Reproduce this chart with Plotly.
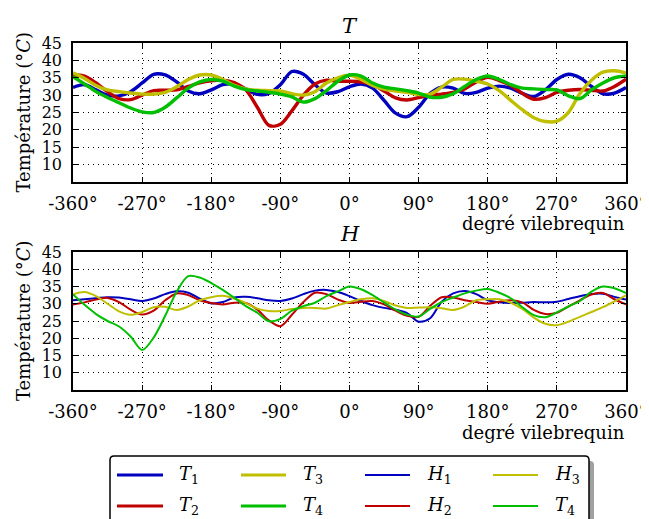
import plotly.graph_objects as go

# ---------------- data ----------------
angles = list(range(-360, 361, 15))
xtick_vals = [-360, -270, -180, -90, 0, 90, 180, 270, 360]
xtick_text = ["-360°", "-270°", "-180°", "-90°", "0°", "90°", "180°", "270°", "360°"]
ytick_vals = [10, 15, 20, 25, 30, 35, 40, 45]

T1 = [32.2, 33.0, 31.5, 30.0, 29.8, 31.0, 33.5,
      36.0, 35.8, 33.8, 31.2, 30.4, 31.5,
      33.0, 33.2, 31.8, 30.2, 30.5, 33.0,
      36.8, 36.0, 33.0, 30.6, 31.0, 32.4,
      33.2, 32.0, 28.5, 24.8, 23.8, 26.5,
      30.5, 32.3, 32.0, 30.5, 30.8, 32.0,
      32.6, 32.0, 30.5, 29.6, 31.5, 34.5,
      36.0, 35.0, 32.5, 30.4, 30.6, 32.2]
T2 = [35.8, 35.5, 33.5, 31.0, 29.0, 28.7, 30.0,
      31.3, 31.4, 31.5, 32.5, 33.5, 34.1,
      34.3, 33.6, 31.5, 26.5, 21.3, 21.6,
      25.5, 30.0, 33.2, 34.3, 34.0, 34.0,
      33.8, 33.0, 31.2, 29.2, 28.6, 29.3,
      30.0, 30.3, 30.8, 31.8, 33.8, 35.1,
      34.2, 32.8, 30.5, 28.8, 29.3, 30.8,
      31.4, 31.6, 31.4, 31.2, 32.5, 34.6]
T3 = [36.4, 34.8, 32.8, 31.5, 31.0, 30.6, 30.3,
      30.3, 30.8, 32.4, 34.5, 35.8, 35.8,
      34.5, 32.8, 31.8, 31.4, 31.3, 31.2,
      30.4, 30.0, 31.0, 33.5, 35.0, 35.7,
      34.5, 32.8, 31.7, 31.2, 30.8, 30.2,
      30.3, 32.3, 34.5, 34.6, 34.0, 33.2,
      31.3, 28.5, 25.8, 23.5, 22.4, 22.5,
      25.0, 30.5, 34.3, 36.6, 37.0, 36.4]
T4 = [35.3, 33.2, 31.0, 29.3, 27.8, 26.3, 25.2,
      25.0, 26.5, 29.2, 32.0, 33.8, 34.5,
      34.0, 32.6, 31.6, 31.2, 30.8, 30.3,
      29.5, 28.0, 29.0, 31.3, 34.0, 35.8,
      35.5, 33.5, 32.3, 31.8, 31.3, 30.6,
      29.4, 29.4, 30.4, 32.5, 34.5, 35.5,
      34.5, 33.0, 32.0, 31.8, 31.6, 31.5,
      29.8, 29.0, 31.5, 33.5, 35.0, 35.5]

H1 = [31.0, 31.3, 31.6, 31.9, 31.8, 31.3, 30.8,
      31.5, 32.8, 33.6, 33.2, 31.5, 30.1,
      30.5, 31.8, 32.0, 31.6, 31.0, 30.8,
      31.5, 32.8, 33.8, 34.0, 33.4, 32.2,
      30.8, 29.6, 28.8, 28.3, 27.3, 24.8,
      25.8, 30.6, 33.0, 33.7, 32.8, 31.0,
      30.4, 30.2, 30.3, 30.5, 30.4, 30.6,
      31.4, 32.2, 32.8, 32.9, 32.0, 31.2]
H2 = [29.8, 30.4, 31.2, 31.7, 30.5, 28.3, 26.9,
      28.0, 31.0, 33.0, 32.5, 31.0, 30.2,
      29.8, 30.3, 30.2, 28.3, 25.2, 23.5,
      26.8, 30.5, 33.2, 32.8, 31.2, 30.2,
      30.6, 30.8, 29.8, 28.0, 26.5, 26.2,
      29.4, 31.9, 31.8, 31.0, 30.5, 30.0,
      30.6, 31.0, 30.4, 28.2, 27.0, 27.4,
      29.2, 31.0, 32.7, 33.1, 31.3, 29.8]
H3 = [32.7, 33.4, 32.2, 30.0, 27.8, 26.8, 27.6,
      29.0, 29.1, 28.2, 29.2, 31.0, 31.9,
      32.3, 31.5, 30.2, 28.6, 27.9, 27.9,
      28.5, 28.8, 28.8, 28.6, 29.6, 30.5,
      31.3, 31.6, 30.8, 29.5, 28.8, 28.9,
      29.0, 28.7, 28.2, 29.2, 31.0, 31.3,
      31.3, 30.3, 28.5, 26.0, 24.2, 23.8,
      24.8, 26.2, 27.6, 29.0, 30.7, 32.4]
H4 = [32.7, 29.7, 27.0, 25.0, 23.4, 20.5, 16.6,
      20.2, 26.5, 33.5, 38.0, 37.6, 36.0,
      34.0, 31.7, 29.3, 27.4, 24.9, 25.6,
      28.0, 29.3, 30.3, 32.2, 33.6, 35.0,
      34.2, 32.5, 30.4, 28.3, 26.8, 26.3,
      28.5, 30.5, 31.8, 33.0, 33.8, 34.3,
      33.2, 31.6, 29.0, 26.7, 26.1, 27.5,
      29.2, 30.8, 33.5, 35.0, 34.5, 33.1]

top_series = [("T1", T1), ("T2", T2), ("T3", T3), ("T4", T4)]
bottom_series = [("H1", H1), ("H2", H2), ("H3", H3), ("H4", H4)]
colors = ["#0000bf", "#bf0000", "#bfbf00", "#00bf00"]

legend_labels = ["<i>T</i><sub>1</sub>", "<i>T</i><sub>2</sub>", "<i>T</i><sub>3</sub>", "<i>T</i><sub>4</sub>",
                 "<i>H</i><sub>1</sub>", "<i>H</i><sub>2</sub>", "<i>H</i><sub>3</sub>", "<i>T</i><sub>4</sub>"]

# ---------------- layout helpers ----------------
# the page places the figure 8px in from the top-left corner (body margin)
OFF = 8
W, Hh = 649 - OFF, 519 - OFF
FONT = "DejaVu Serif"


def px(x):
    return (x - OFF) / W


def py(y):
    return 1 - (y - OFF) / Hh


AX_L, AX_R = 73, 626
TOP_T, TOP_B = 43, 182
BOT_T, BOT_B = 252, 390

fig = go.Figure()

for (name, ys), c in zip(top_series, colors):
    fig.add_trace(go.Scatter(x=angles, y=ys, mode="lines", name=name,
                             line=dict(color=c, width=3.4, shape="spline", smoothing=0.9),
                             xaxis="x", yaxis="y", showlegend=False, hoverinfo="skip"))
for (name, ys), c in zip(bottom_series, colors):
    fig.add_trace(go.Scatter(x=angles, y=ys, mode="lines", name=name,
                             line=dict(color=c, width=2.0, shape="spline", smoothing=0.9),
                             xaxis="x2", yaxis="y2", showlegend=False, hoverinfo="skip"))

xaxis_common = dict(range=[-360, 360], tickmode="array", tickvals=xtick_vals, ticktext=xtick_text,
                    ticks="inside", ticklen=5, tickwidth=1, tickcolor="black",
                    showline=True, linecolor="black", linewidth=1.5, mirror="allticks",
                    showgrid=True, gridcolor="black", gridwidth=1, griddash="1px,4px",
                    zeroline=False, tickfont=dict(family=FONT, size=18, color="black"),
                    ticklabelstandoff=5, automargin=False,
                    domain=[px(AX_L), px(AX_R)])
yaxis_common = dict(range=[5, 45], tickmode="array", tickvals=ytick_vals,
                    ticks="inside", ticklen=5, tickwidth=1, tickcolor="black",
                    showline=True, linecolor="black", linewidth=1.5, mirror="allticks",
                    showgrid=True, gridcolor="black", gridwidth=1, griddash="1px,4px",
                    zeroline=False, tickfont=dict(family=FONT, size=16, color="black"),
                    ticklabelstandoff=6, automargin=False)

fig.update_layout(
    width=W, height=Hh,
    margin=dict(l=0, r=0, t=0, b=0, autoexpand=False),
    paper_bgcolor="white", plot_bgcolor="white",
    xaxis=dict(**xaxis_common, anchor="y"),
    yaxis=dict(**yaxis_common, anchor="x", domain=[py(TOP_B), py(TOP_T)]),
    xaxis2=dict(**xaxis_common, anchor="y2"),
    yaxis2=dict(**yaxis_common, anchor="x2", domain=[py(BOT_B), py(BOT_T)]),
    showlegend=False,
)

annotations = []
# titles
for txt, yc in [("<i>T</i>", 26), ("<i>H</i>", 234)]:
    annotations.append(dict(text=txt, x=px((AX_L + AX_R) / 2), y=py(yc), xref="paper", yref="paper",
                            xanchor="center", yanchor="middle", showarrow=False,
                            font=dict(family=FONT, size=21, color="black")))
# y titles
for top, bot in [(TOP_T, TOP_B), (BOT_T, BOT_B)]:
    annotations.append(dict(text="Température (°<i>C</i>)", x=px(23), y=py((top + bot) / 2),
                            xref="paper", yref="paper", xanchor="center", yanchor="middle",
                            textangle=-90, showarrow=False,
                            font=dict(family=FONT, size=18, color="black")))
# x labels
for yc in [223, 432]:
    annotations.append(dict(text="degré vilebrequin", x=px(AX_R + 1), y=py(yc), xref="paper", yref="paper",
                            xanchor="right", yanchor="middle", showarrow=False,
                            font=dict(family=FONT, size=18, color="black")))

# legend (drawn manually)
shapes = []
LX0, LX1, LY0, LY1 = 110, 589, 456, 540
r = 4


def rounded_path(x0, y0, x1, y1, r):
    return (f"M {px(x0 + r)},{py(y0)} L {px(x1 - r)},{py(y0)} "
            f"Q {px(x1)},{py(y0)} {px(x1)},{py(y0 + r)} L {px(x1)},{py(y1 - r)} "
            f"Q {px(x1)},{py(y1)} {px(x1 - r)},{py(y1)} L {px(x0 + r)},{py(y1)} "
            f"Q {px(x0)},{py(y1)} {px(x0)},{py(y1 - r)} L {px(x0)},{py(y0 + r)} "
            f"Q {px(x0)},{py(y0)} {px(x0 + r)},{py(y0)} Z")


shapes.append(dict(type="path", path=rounded_path(LX0 + 5, LY0 + 5, LX1 + 5, LY1 + 5, r),
                   xref="paper", yref="paper", fillcolor="#a0a0a0", line=dict(width=0)))
shapes.append(dict(type="path", path=rounded_path(LX0, LY0, LX1, LY1, r),
                   xref="paper", yref="paper", fillcolor="white", line=dict(color="black", width=1.5)))

col_line_x = [(117, 163), (241, 286), (365, 410), (493, 538)]
col_text_x = [177, 301, 425, 553]
row_y = [475, 506]
line_colors = colors + colors
for i, lab in enumerate(legend_labels):
    col, row = divmod(i, 2)
    yv = row_y[row]
    x0, x1 = col_line_x[col]
    width = 3.2 if i < 4 else 1.8
    shapes.append(dict(type="line", x0=px(x0), x1=px(x1), y0=py(yv), y1=py(yv),
                       xref="paper", yref="paper", line=dict(color=line_colors[i], width=width)))
    annotations.append(dict(text=lab, x=px(col_text_x[col]), y=py(yv), xref="paper", yref="paper",
                            xanchor="left", yanchor="middle", showarrow=False,
                            font=dict(family=FONT, size=18, color="black")))

fig.update_layout(annotations=annotations, shapes=shapes)

fig.write_html("out.html")
